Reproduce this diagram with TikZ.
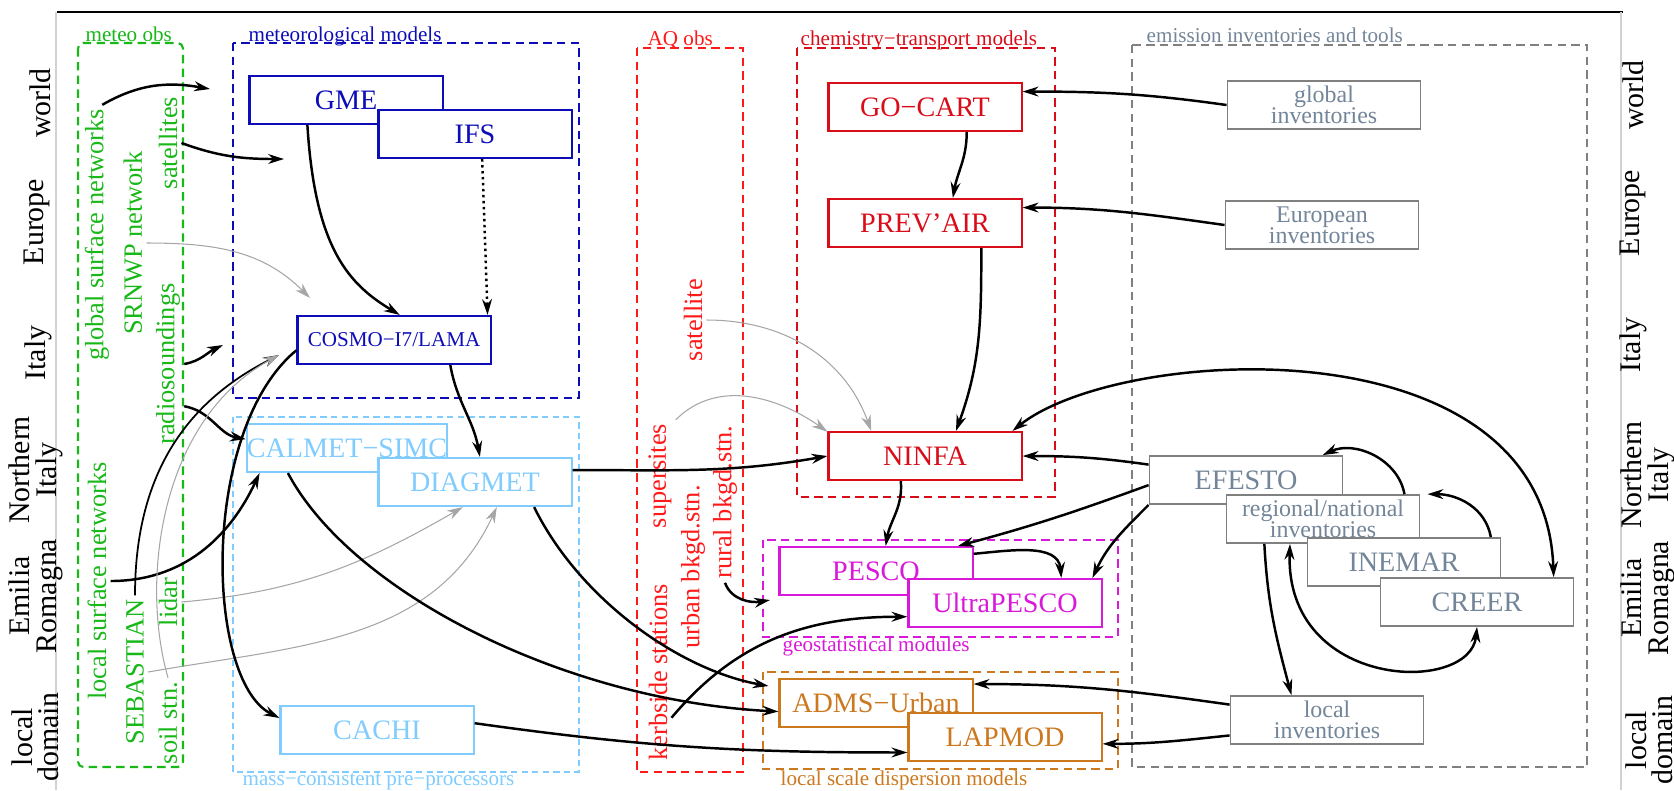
\documentclass[tikz,border=0pt]{standalone}
\usepackage{fontspec}
\setmainfont{Liberation Serif}
\usetikzlibrary{arrows.meta}
\definecolor{obsgreen}{rgb}{0.1,0.72,0.1}
\definecolor{metblue}{rgb}{0.05,0.05,0.72}
\definecolor{preblue}{rgb}{0.5,0.8,1}
\definecolor{aqred}{rgb}{1,0.1,0.1}
\definecolor{ctmred}{rgb}{0.85,0.05,0.1}
\definecolor{geomag}{rgb}{0.85,0.1,0.85}
\definecolor{dispor}{rgb}{0.8,0.47,0.12}
\definecolor{invgray}{rgb}{0.5,0.5,0.5}
\definecolor{invtext}{rgb}{0.45,0.52,0.6}
\newcommand{\invfont}{\fontsize{6.8}{5.9}\selectfont\lineskiplimit -4pt\relax}
\begin{document}
\begin{tikzpicture}[x=0.01cm,y=-0.01cm,>={Stealth[length=4.5pt,width=2.8pt]},
	model/.style={draw,fill=white,line width=0.6pt,minimum width=1.93cm,minimum height=0.48cm,inner sep=0pt,font=\fontsize{8}{9}\selectfont},
	inv/.style={model,draw=invgray,line width=0.5pt,text=invtext,align=center,font=\invfont},
	obs/.style={rotate=90,inner sep=1pt,font=\fontsize{7.5}{8}\selectfont},
	region/.style={rotate=90,align=center,inner sep=1pt,font=\fontsize{8.5}{7.5}\selectfont},
	grp/.style={line width=0.6pt,dash pattern=on 2.4pt off 1.5pt},
	grplbl/.style={inner sep=0pt,font=\fontsize{6}{7}\selectfont},
	link/.style={->,line width=0.7pt},
	hint/.style={->,line width=0.3pt,draw=gray!70}]
	\useasboundingbox (0,0) rectangle (1674,790);
	\draw[line width=0.8pt] (57,12)--(1623,12);
	\draw[gray!35,line width=0.4pt] (56,12)--(56,790);
	\draw[gray!35,line width=0.4pt] (1621,12)--(1621,790);
	% scales
	\node[region] (wl) at (40,103) {world};
	\node[region] (el) at (37,222) {Europe};
	\node[region] (il) at (38,353) {Italy};
	\node[region] (nl) at (36,470) {Northern\\Italy};
	\node[region] (rl) at (36,596) {Emilia\\Romagna};
	\node[region] (ll) at (35,737) {local\\domain};
	\node[region] (wr) at (1633,95) {world};
	\node[region] (er) at (1633,213) {Europe};
	\node[region] (ir) at (1633,345) {Italy};
	\node[region] (nr) at (1648,475) {Northern\\Italy};
	\node[region] (rr) at (1648,598) {Emilia\\Romagna};
	\node[region] (lr) at (1649,740) {local\\domain};
	% groups
	\draw[grp,obsgreen,rounded corners=1.5pt] (78,43) rectangle (183,767);
	\node[grplbl,text=obsgreen,anchor=base west] (metobs) at (85,41) {meteo obs};
	\draw[grp,metblue] (233,43) rectangle (579,398);
	\node[grplbl,text=metblue,anchor=base west] (metmod) at (248,41) {meteorological models};
	\draw[grp,preblue,line width=0.5pt,dash pattern=on 1.8pt off 1.2pt] (233,417) rectangle (579,772);
	\node[grplbl,text=preblue,anchor=base west] (prepro) at (242,785) {mass−consistent pre−processors};
	\draw[grp,aqred] (637,48) rectangle (743,772);
	\node[grplbl,text=aqred,anchor=base west] (aqobs) at (647,45) {AQ obs};
	\draw[grp,ctmred] (797,48) rectangle (1055,497);
	\node[grplbl,text=ctmred,anchor=base west] (ctm) at (800,45) {chemistry−transport models};
	\draw[grp,invgray,line width=0.5pt] (1132,45) rectangle (1587,767);
	\node[grplbl,text=invtext,anchor=base west] (emis) at (1146,42) {emission inventories and tools};
	\draw[grp,geomag] (763,540) rectangle (1118,637);
	\node[grplbl,text=geomag,anchor=base west] (geo) at (782,651) {geostatistical modules};
	\draw[grp,dispor] (763,672) rectangle (1118,769);
	\node[grplbl,text=dispor,anchor=base west] (disp) at (780,785) {local scale dispersion models};
	% observations
	\node[obs,text=obsgreen] (gsn) at (97,235) {global surface networks};
	\node[obs,text=obsgreen] (srnwp) at (133,243) {SRNWP network};
	\node[obs,text=obsgreen] (sats) at (168,143) {satellites};
	\node[obs,text=obsgreen] (radio) at (168,364) {radiosoundings};
	\node[obs,text=obsgreen] (lsn) at (97,581) {local surface networks};
	\node[obs,text=obsgreen] (seb) at (135,672) {SEBASTIAN};
	\node[obs,text=obsgreen] (lidar) at (168,602) {lidar};
	\node[obs,text=obsgreen] (soil) at (168,723) {soil stn.};
	\node[obs,text=aqred] (aqsat) at (693,320) {satellite};
	\node[obs,text=aqred] (super) at (660,476) {supersites};
	\node[obs,text=aqred] (urban) at (693,567) {urban bkgd.stn.};
	\node[obs,text=aqred] (rural) at (725,502) {rural bkgd.stn.};
	\node[obs,text=aqred] (kerb) at (658,672) {kerbside stations};
	% models
	\node[model,draw=metblue,text=metblue] (gme) at (346,100) {GME};
	\node[model,draw=metblue,text=metblue] (ifs) at (475,134) {IFS};
	\node[model,draw=metblue,text=metblue,font=\fontsize{6}{7}\selectfont] (cosmo) at (394,340) {COSMO−I7/LAMA};
	\node[model,draw=preblue,text=preblue] (calmet) at (347,448) {CALMET−SIMC};
	\node[model,draw=preblue,text=preblue] (diagmet) at (475,482) {DIAGMET};
	\node[model,draw=preblue,text=preblue] (cachi) at (377,730) {CACHI};
	\node[model,draw=ctmred,text=ctmred] (gocart) at (925,107) {GO−CART};
	\node[model,draw=ctmred,text=ctmred] (prevair) at (925,223) {PREV’AIR};
	\node[model,draw=ctmred,text=ctmred] (ninfa) at (925,456) {NINFA};
	\node[model,draw=geomag,text=geomag] (pesco) at (876,571) {PESCO};
	\node[model,draw=geomag,text=geomag] (ultra) at (1005,603) {UltraPESCO};
	\node[model,draw=dispor,text=dispor] (adms) at (876,703) {ADMS−Urban};
	\node[model,draw=dispor,text=dispor] (lapmod) at (1005,737) {LAPMOD};
	\node[inv] (globinv) at (1324,105) {global\\inventories};
	\node[inv] (euroinv) at (1322,225) {European\\inventories};
	\node[inv,font=\fontsize{8}{9}\selectfont] (efesto) at (1246,480) {EFESTO};
	\node[inv] (regional) at (1323,519) {regional/national\\inventories};
	\node[inv,font=\fontsize{8}{9}\selectfont] (inemar) at (1404,562) {INEMAR};
	\node[inv,font=\fontsize{8}{9}\selectfont] (creer) at (1477,602) {CREER};
	\node[inv] (localinv) at (1327,720) {local\\inventories};
	% free ends
	\coordinate (gmein) at (210,89);
	\coordinate (ifsin) at (284,159);
	\coordinate (cosmoin) at (310,298);
	\coordinate (radin) at (223,345);
	\coordinate (cosmolow) at (279,355);
	\coordinate (geoin) at (770,600);
	% meteo obs
	\draw[link] ([xshift=1.5pt]gsn.east) to[out=30,in=170] (gmein);
	\draw[link] (sats.south) to[out=-20,in=180] (ifsin);
	\draw[hint] (srnwp.south) to[out=0,in=135] (cosmoin);
	\draw[link] (radio.south) to[out=10,in=205] (radin);
	\draw[link] ([yshift=-12pt]radio.south) to[out=-10,in=170] (calmet.175);
	\draw[link] (lsn.south) to[out=0,in=-115] (calmet.-164);
	\draw[link,line width=0.5pt] (seb.east) .. controls (135,470) and (190,400) .. (cosmolow);
	\draw[hint] (soil.east) .. controls (140,580) and (160,420) .. (cosmolow);
	\draw[hint] (lidar.south) to[out=5,in=-150] (diagmet.-116);
	\draw[hint] (seb.south) to[out=10,in=-115] (diagmet.-49);
	% met models
	\draw[link] (gme.-147) .. controls (315,250) and (350,285) .. (cosmo.77);
	\draw[link,densely dotted] (ifs.-74) to[out=-88,in=92] (cosmo.15);
	\draw[link] (cosmo.-24) to[out=-80,in=100] (diagmet.79);
	\draw[link] (cosmo.-174) .. controls (200,430) and (205,680) .. (cachi.173);
	\draw[link] (calmet.-157) .. controls (350,590) and (560,700) .. (adms.-175);
	\draw[link] (diagmet.-23) .. controls (580,600) and (680,670) .. ([shift={(-2.8pt,-2.3pt)}]adms.north west);
	\draw[link] (diagmet.7) to[out=0,in=190] (ninfa.west);
	\draw[link] (cachi.4) to[out=-8,in=180] (lapmod.-171);
	% chemistry
	\draw[link] (globinv.west) to[out=172,in=0] (gocart.9);
	\draw[link] (euroinv.west) to[out=172,in=0] (prevair.9);
	\draw[link] (gocart.-31) to[out=-90,in=80] (prevair.42);
	\draw[link] (prevair.-24) to[out=-90,in=70] (ninfa.39);
	\draw[hint] (aqsat.south) to[out=0,in=110] (ninfa.155);
	\draw[hint] (super.south east) to[out=45,in=145] (ninfa.166);
	\draw[link] (efesto.171) to[out=172,in=0] (ninfa.east);
	\draw[link] (efesto.-177) to[out=200,in=15] (pesco.17);
	\draw[link] (efesto.south west) to[out=-135,in=65] (ultra.16);
	\draw[link] (pesco.10) to[out=5,in=95] (ultra.24);
	\draw[link] (ninfa.-134) to[out=-85,in=80] (pesco.69);
	\draw[link] (rural.west) to[out=-70,in=190] (geoin);
	\draw[link] ([yshift=-13pt]kerb.south) to[out=50,in=180] (ultra.-172);
	\draw[link] (localinv.171) to[out=172,in=0] (adms.11);
	\draw[link] (localinv.-171) to[out=186,in=0] (lapmod.-4);
	% inventories
	\draw[link,<->] (ninfa.16) .. controls (1120,345) and (1545,320) .. (creer.18);
	\draw[link] (inemar.16) to[out=100,in=0] ([xshift=2pt]regional.north east);
	\draw[link] (regional.17) to[out=100,in=25] (efesto.18);
	\draw[link] (regional.-157) to[out=-87,in=105] (localinv.145);
	\draw[link,<->] (regional.-143) .. controls (1285,690) and (1470,695) .. (creer.south);
\end{tikzpicture}
\end{document}
